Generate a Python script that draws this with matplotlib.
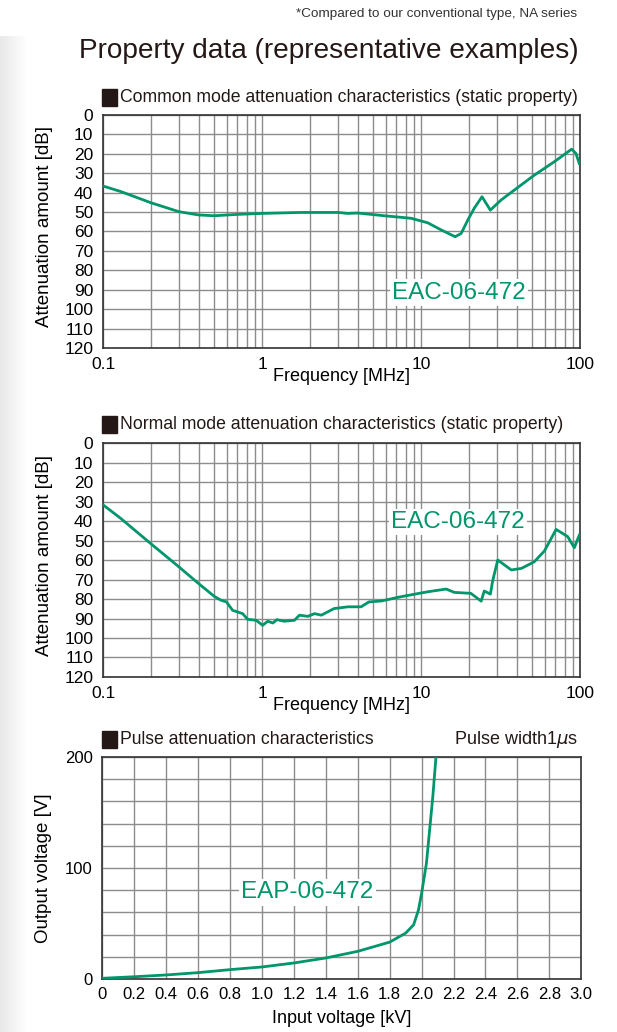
import numpy as np
import matplotlib
matplotlib.use("Agg")
import matplotlib.pyplot as plt
from matplotlib.ticker import FixedLocator, NullFormatter
from matplotlib.patches import Rectangle

plt.rcParams['font.family'] = ['Liberation Sans', 'DejaVu Sans']

GREEN = "#00966c"
GRID = "#8c8c8c"
DARK = "#231815"

# Common mode attenuation (frequency MHz, attenuation dB)
cm_freq = [0.1, 0.13, 0.2, 0.3, 0.4, 0.5, 0.7, 1.0, 1.76, 2.0, 3.0, 3.46, 4.0,
           5.88, 8.65, 11.0, 13.4, 16.4, 17.9, 19.7, 21.6, 24.2, 27.3, 31.9,
           38.6, 51.6, 68.9, 88.7, 94.4, 99.0]
cm_att = [36.6, 39.5, 45.2, 49.8, 51.5, 51.9, 51.2, 50.7, 50.2, 50.2, 50.2, 50.7,
          50.5, 51.9, 53.2, 55.5, 59.2, 62.7, 61.0, 54.1, 48.1, 42.1, 49.0,
          43.8, 38.7, 31.0, 24.1, 17.6, 19.9, 25.0]

# Normal mode attenuation (frequency MHz, attenuation dB)
nm_freq = [0.1, 0.129, 0.199, 0.3, 0.398, 0.5, 0.551, 0.598, 0.653, 0.755, 0.812,
           0.917, 1.01, 1.086, 1.17, 1.24, 1.38, 1.6, 1.72, 1.94, 2.14, 2.36,
           2.84, 3.48, 4.2, 4.7, 5.65, 7.4, 11.0, 14.4, 16.2, 20.6, 23.9, 25.0,
           27.3, 28.3, 30.4, 37.0, 42.8, 51.6, 59.7, 70.8, 83.7, 92.1, 99.0]
nm_att = [31.7, 38.6, 51.5, 63.5, 72.0, 78.6, 80.6, 81.5, 85.8, 87.5, 90.4,
          90.9, 93.5, 91.4, 92.3, 90.6, 91.4, 90.9, 88.3, 88.9, 87.5, 88.3,
          84.9, 84.0, 84.0, 81.5, 81.0, 78.9, 76.3, 74.9, 76.6, 77.1, 81.1, 75.9,
          77.5, 70.3, 60.0, 65.1, 64.3, 60.9, 55.4, 44.3, 48.0, 53.7, 47.2]

# Pulse attenuation (input kV, output V)
pulse_in = [0.0, 0.2, 0.4, 0.6, 0.8, 1.0, 1.2, 1.4, 1.6, 1.8, 1.9, 1.95, 1.98,
            2.0, 2.03, 2.05, 2.07, 2.09]
pulse_out = [0.6, 2.0, 3.6, 5.7, 8.4, 10.8, 14.4, 18.9, 24.9, 33.2, 41.3, 48.8,
             62.0, 77.2, 104.0, 134.0, 164.0, 200.0]

db_ticks = list(range(0, 130, 10))
freq_ticks = [0.1, 1, 10, 100]
freq_labels = ["0.1", "1", "10", "100"]
kv_ticks = [round(0.2 * i, 1) for i in range(16)]
kv_labels = ["0"] + ["%.1f" % v for v in kv_ticks[1:]]
v_ticks = [0, 100, 200]


# Dark square marker followed by the chart heading
def heading(fig, y_center, text):
    fig.patches.append(Rectangle((0.1653, y_center - 0.00824), 0.0243, 0.01647,
                                 transform=fig.transFigure, color=DARK))
    fig.text(0.1945, y_center, text, fontsize=12.7, ha="left", va="center", color=DARK)


def style_spines(ax):
    for s in ax.spines.values():
        s.set_color("#333333")
        s.set_linewidth(1.2)


# Draws one attenuation chart on a log frequency axis
def draw_log_chart(ax, freq, att, label_xy):
    ax.plot(freq, att, color=GREEN, lw=2.0, zorder=3)
    ax.set_xscale("log")
    ax.set_xlim(0.1, 100)
    ax.set_ylim(120, 0)
    ax.set_yticks(db_ticks)
    ax.set_xticks(freq_ticks)
    ax.set_xticklabels(freq_labels)
    minors = [m * 10.0 ** e for e in range(-1, 2) for m in range(2, 10)]
    ax.xaxis.set_minor_locator(FixedLocator(minors))
    ax.xaxis.set_minor_formatter(NullFormatter())
    ax.grid(True, which="both", color=GRID, lw=1.0)
    ax.tick_params(which="both", length=0, labelsize=12.5)
    ax.tick_params(axis="x", pad=6.5)
    ax.tick_params(axis="y", pad=7)
    ax.set_xlabel("Frequency [MHz]", fontsize=13)
    ax.xaxis.set_label_coords(0.5, -0.084)
    ax.set_ylabel("Attenuation amount [dB]", fontsize=13.5)
    ax.yaxis.set_label_coords(-0.105, 0.52)
    style_spines(ax)
    ax.text(label_xy[0], label_xy[1], "EAC-06-472", color=GREEN, fontsize=17.5,
            ha="center", va="center", zorder=4,
            bbox=dict(facecolor="white", edgecolor="none", pad=1.5))


fig = plt.figure(figsize=(6.17, 10.32), dpi=100)

# soft grey shade along the left edge
shade = fig.add_axes([0, 0, 0.045, 0.965])
shade.imshow(np.linspace(0.91, 1.0, 50).reshape(1, -1), cmap="gray", vmin=0, vmax=1,
             aspect="auto", extent=[0, 1, 0, 1])
shade.axis("off")

fig.text(0.935, 0.986, "*Compared to our conventional type, NA series", fontsize=9.7,
         ha="right", va="center", color="#333333")
fig.text(0.937, 0.951, "Property data (representative examples)", fontsize=20.2,
         ha="right", va="center", color=DARK)

ax1 = fig.add_axes([0.167, 0.6628, 0.773, 0.2258])
draw_log_chart(ax1, cm_freq, cm_att, (17.3, 91.5))
heading(fig, 0.906, "Common mode attenuation characteristics (static property)")

ax2 = fig.add_axes([0.167, 0.344, 0.773, 0.2267])
draw_log_chart(ax2, nm_freq, nm_att, (17, 40.5))
heading(fig, 0.5882, "Normal mode attenuation characteristics (static property)")

ax3 = fig.add_axes([0.166, 0.0514, 0.776, 0.2151])
ax3.plot(pulse_in, pulse_out, color=GREEN, lw=2.0, zorder=3)
ax3.set_xlim(0, 3.0)
ax3.set_ylim(0, 200)
ax3.set_xticks(kv_ticks)
ax3.set_xticklabels(kv_labels)
ax3.set_yticks(v_ticks)
ax3.yaxis.set_minor_locator(FixedLocator(list(range(20, 200, 20))))
ax3.grid(True, which="both", color=GRID, lw=1.0)
ax3.tick_params(which="both", length=0, labelsize=12)
ax3.tick_params(axis="x", pad=6)
ax3.tick_params(axis="y", pad=7)
ax3.set_xlabel("Input voltage [kV]", fontsize=13)
ax3.xaxis.set_label_coords(0.5, -0.14)
ax3.set_ylabel("Output voltage [V]", fontsize=13.5)
ax3.yaxis.set_label_coords(-0.105, 0.5)
style_spines(ax3)
ax3.text(1.285, 78, "EAP-06-472", color=GREEN, fontsize=17.5, ha="center", va="center",
         zorder=4, bbox=dict(facecolor="white", edgecolor="none", pad=1.5))
heading(fig, 0.2839, "Pulse attenuation characteristics")
fig.text(0.937, 0.2839, r"Pulse width1$\mu$s", fontsize=13, ha="right", va="center",
         color=DARK)

fig.savefig("out.png", dpi=100)
